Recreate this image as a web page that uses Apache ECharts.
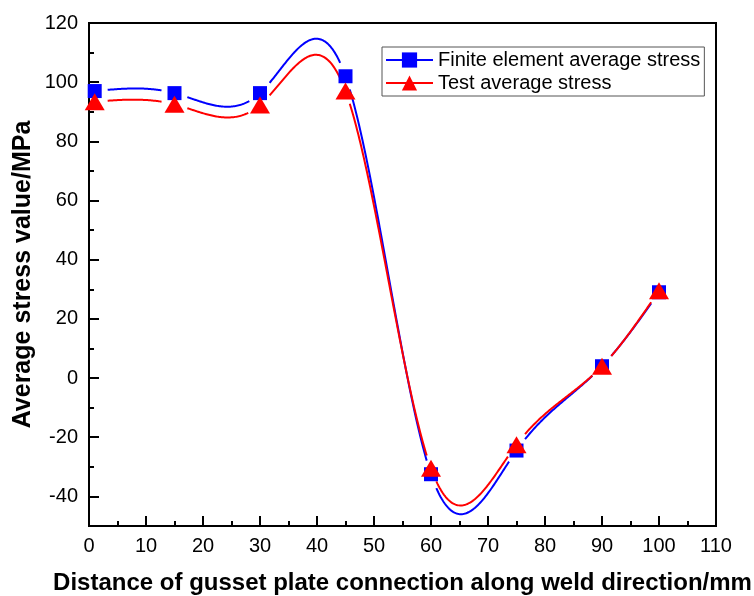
<!DOCTYPE html>
<html>
<head>
<meta charset="utf-8">
<script src="https://cdn.jsdelivr.net/npm/echarts@6/dist/echarts.min.js"></script>
<style>html,body{margin:0;padding:0;background:#fff}#c{width:754px;height:596px}</style>
</head>
<body>
<div id="c"></div>
<script>
// ---- data ----
var positions = [1, 15, 30, 45, 60, 75, 90, 100];
var feStress = [97, 96.3, 96.3, 102, -32.5, -24.5, 4, 29];
var testStress = [93.4, 92.5, 92.3, 97, -30.5, -22.5, 4, 29.5];
var yMajorTicks = [-40, -20, 0, 20, 40, 60, 80, 100, 120];
var yMinorTicks = [-30, -10, 10, 30, 50, 70, 90, 110];
var feName = 'Finite element average stress';
var testName = 'Test average stress';

// natural cubic spline second derivatives (curve shape only)
function splineM(xs, ys) {
  var n = xs.length, h = [], i;
  for (i = 0; i < n - 1; i++) h.push(xs[i + 1] - xs[i]);
  var a = new Array(n).fill(0), b = new Array(n).fill(1), c = new Array(n).fill(0), d = new Array(n).fill(0);
  for (i = 1; i < n - 1; i++) {
    a[i] = h[i - 1]; b[i] = 2 * (h[i - 1] + h[i]); c[i] = h[i];
    d[i] = 6 * ((ys[i + 1] - ys[i]) / h[i] - (ys[i] - ys[i - 1]) / h[i - 1]);
  }
  for (i = 1; i < n; i++) { var m = a[i] / b[i - 1]; b[i] -= m * c[i - 1]; d[i] -= m * d[i - 1]; }
  var M = new Array(n).fill(0);
  M[n - 1] = d[n - 1] / b[n - 1];
  for (i = n - 2; i >= 0; i--) M[i] = (d[i] - c[i] * M[i + 1]) / b[i];
  M[0] = 0; M[n - 1] = 0;
  return M;
}
function splineEval(xs, ys, M, i, x) {
  var h = xs[i + 1] - xs[i];
  var A = (xs[i + 1] - x) / h, B = (x - xs[i]) / h;
  return A * ys[i] + B * ys[i + 1] + ((A * A * A - A) * M[i] + (B * B * B - B) * M[i + 1]) * h * h / 6;
}
function curveRenderer(xs, ys, color, gap) {
  var M = splineM(xs, ys);
  return function (params, api) {
    var i = params.dataIndex;
    if (i >= xs.length - 1) return null;
    var p0 = api.coord([xs[i], ys[i]]), p1 = api.coord([xs[i + 1], ys[i + 1]]);
    var pts = [], steps = 80;
    for (var k = 0; k <= steps; k++) {
      var x = xs[i] + (xs[i + 1] - xs[i]) * k / steps;
      var p = api.coord([x, splineEval(xs, ys, M, i, x)]);
      var d0 = Math.hypot(p[0] - p0[0], p[1] - p0[1]);
      var d1 = Math.hypot(p[0] - p1[0], p[1] - p1[1]);
      if (d0 > gap && d1 > gap) pts.push(p);
    }
    if (pts.length < 2) return null;
    return { type: 'polyline', shape: { points: pts }, style: { fill: null, stroke: color, lineWidth: 2 } };
  };
}
function pairs(xs, ys) { return xs.map(function (x, i) { return [x, ys[i]]; }); }

var font = 'Liberation Sans, Arial, sans-serif';
var chart = echarts.init(document.getElementById('c'), null, { renderer: 'canvas' });
chart.setOption({
  animation: false,
  backgroundColor: '#fff',
  grid: { left: 89, right: 38, top: 23, bottom: 70, outerBoundsMode: 'none', containLabel: false,
    show: true, borderColor: '#000', borderWidth: 2, backgroundColor: 'transparent' },
  legend: {
    left: 382, top: 47, orient: 'vertical',
    itemWidth: 47, itemHeight: 19, itemGap: 3,
    padding: [3, 4, 3, 3],
    borderColor: '#555', borderWidth: 1, backgroundColor: '#fff',
    textStyle: { fontFamily: font, fontSize: 20, color: '#000' },
    data: [
      { name: feName, lineStyle: { opacity: 1, width: 2, color: '#0000ff' } },
      { name: testName, lineStyle: { opacity: 1, width: 2, color: '#ff0000' } }
    ]
  },
  xAxis: {
    type: 'value', min: 0, max: 110, interval: 10,
    name: 'Distance of gusset plate connection along weld direction/mm',
    nameLocation: 'middle', nameGap: 45,
    nameTextStyle: { fontFamily: font, fontSize: 24, fontWeight: 'bold', color: '#000' },
    axisLine: { onZero: false, lineStyle: { color: '#000', width: 2 } },
    axisTick: { inside: true, length: 10, lineStyle: { color: '#000', width: 2 } },
    minorTick: { show: true, splitNumber: 2, length: 5, lineStyle: { color: '#000', width: 2 } },
    axisLabel: { fontFamily: font, fontSize: 20, color: '#000', margin: 10 },
    splitLine: { show: false }
  },
  yAxis: [{
    type: 'value', min: -50, max: 120, interval: 10,
    name: 'Average stress value/MPa',
    nameLocation: 'middle', nameGap: 53, nameRotate: 90, nameMoveOverlap: false,
    nameTextStyle: { fontFamily: font, fontSize: 25, fontWeight: 'bold', color: '#000' },
    axisLine: { onZero: false, lineStyle: { color: '#000', width: 2 } },
    axisTick: { inside: true, length: 10, customValues: yMajorTicks, lineStyle: { color: '#000', width: 2 } },
    axisLabel: { fontFamily: font, fontSize: 20, color: '#000', margin: 11, customValues: yMajorTicks },
    splitLine: { show: false }
  }, {
    type: 'value', min: -50, max: 120, interval: 10, position: 'left',
    axisLine: { show: false, onZero: false },
    axisTick: { inside: true, length: 5, customValues: yMinorTicks, lineStyle: { color: '#000', width: 2 } },
    axisLabel: { show: false },
    splitLine: { show: false }
  }],
  series: [
    { type: 'custom', name: 'fe-curve', z: 2, data: pairs(positions, feStress), renderItem: curveRenderer(positions, feStress, '#0000ff', 13), silent: true },
    { type: 'custom', name: 'test-curve', z: 3, data: pairs(positions, testStress), renderItem: curveRenderer(positions, testStress, '#ff0000', 13), silent: true },
    { type: 'line', name: feName, z: 4, data: pairs(positions, feStress), symbol: 'rect', symbolSize: 14, showSymbol: true,
      itemStyle: { color: '#0000ff' }, lineStyle: { opacity: 0, color: '#0000ff' } },
    { type: 'line', name: testName, z: 5, data: pairs(positions, testStress), symbol: 'triangle', symbolSize: [20, 17], showSymbol: true,
      itemStyle: { color: '#ff0000' }, lineStyle: { opacity: 0, color: '#ff0000' } }
  ]
});
</script>
</body>
</html>
